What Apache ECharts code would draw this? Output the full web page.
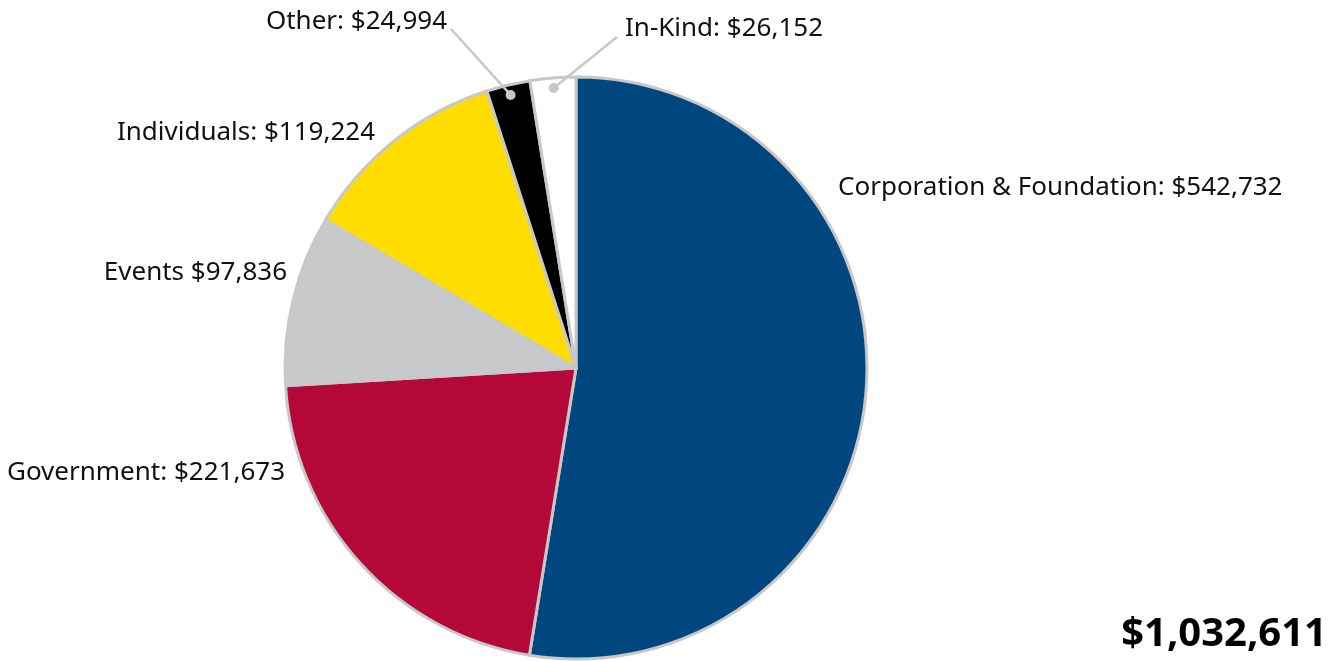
<!DOCTYPE html>
<html><head><meta charset="utf-8">
<script src="https://cdn.jsdelivr.net/npm/echarts@6/dist/echarts.min.js"></script>
<style>html,body{margin:0;padding:0;background:#fff}#c{width:1339px;height:661px}</style>
</head><body><div id="c"></div>
<script>
const categories = ['Corporation & Foundation', 'Government', 'Events', 'Individuals', 'Other', 'In-Kind'];
const values = [542732, 221673, 97836, 119224, 24994, 26152];
const labelTexts = ['Corporation & Foundation: $542,732', 'Government: $221,673', 'Events $97,836', 'Individuals: $119,224', 'Other: $24,994', 'In-Kind: $26,152'];
const totalText = '$1,032,611';
const colors = ['#00467f', '#b30838', '#c8c9cb', '#ffdd00', '#000000', '#ffffff'];

const W = 1339, H = 661;
const CX = 576, CY = 368, R = 291;
const FONT = 'Noto Sans';
// label anchor: [x, y, align]
const labelPos = [
  [838, 188, 'left'],
  [285, 473, 'right'],
  [287, 273, 'right'],
  [375, 133, 'right'],
  [447, 22, 'right'],
  [625, 29, 'left']
];
// where the leader line leaves the label
const lineEnds = {4: [451, 29], 5: [617, 37]};

const total = values.reduce((a, b) => a + b, 0);
function midAngle(i) { // radians, clockwise from top
  let s = 0; for (let k = 0; k < i; k++) s += values[k];
  return ((s + values[i] / 2) / total) * Math.PI * 2;
}
function dotPoint(i) {
  const a = midAngle(i), d = R * 0.965;
  return [CX + Math.sin(a) * d, CY - Math.cos(a) * d];
}

const leaderGraphics = [];
[4, 5].forEach(i => {
  const d = dotPoint(i);
  leaderGraphics.push({type: 'line', shape: {x1: lineEnds[i][0], y1: lineEnds[i][1], x2: d[0], y2: d[1]}, style: {stroke: '#c8c8c8', lineWidth: 2.5}, z: 100});
  leaderGraphics.push({type: 'circle', shape: {cx: d[0], cy: d[1], r: 5}, style: {fill: '#c8c8c8'}, z: 101});
});

const chart = echarts.init(document.getElementById('c'), null, {renderer: 'canvas'});
chart.setOption({
  animation: false,
  backgroundColor: '#fff',
  series: [{
    type: 'pie',
    center: [CX, CY],
    radius: R,
    startAngle: 90,
    clockwise: true,
    avoidLabelOverlap: false,
    itemStyle: {borderColor: '#c8c8c8', borderWidth: 3},
    data: categories.map((n, i) => ({
      name: n, value: values[i],
      itemStyle: {color: colors[i]}
    })),
    label: {
      show: true, position: 'outside',
      formatter: p => labelTexts[p.dataIndex],
      fontFamily: FONT, fontSize: 26, color: '#111'
    },
    labelLine: {show: false},
    labelLayout: function (p) {
      const [x, y, align] = labelPos[p.dataIndex];
      return {x: x, y: y, align: align, verticalAlign: 'middle', hideOverlap: false};
    }
  }],
  graphic: [
    ...leaderGraphics,
    {type: 'text', right: 12, top: 615, style: {text: totalText, font: 'bold 40px "Noto Sans"', fill: '#000'}}
  ]
});
</script></body></html>
